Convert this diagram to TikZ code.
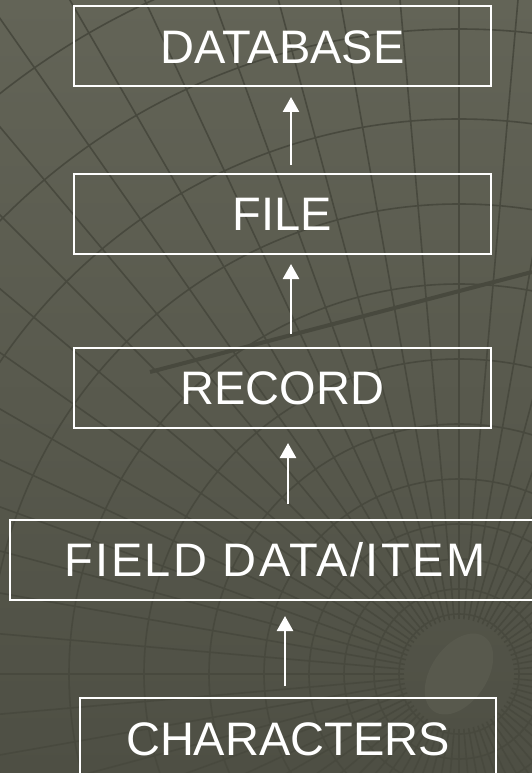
\documentclass[tikz,border=0pt]{standalone}
\usepackage{fontspec}
\setmainfont{Liberation Sans}
\usepackage{xcolor}
\usetikzlibrary{arrows.meta,positioning}

\definecolor{slatetop}{RGB}{99,100,87}
\definecolor{slatebottom}{RGB}{78,79,68}
\definecolor{gridline}{RGB}{72,73,62}
\definecolor{holefill}{RGB}{88,89,77}

\begin{document}
\begin{tikzpicture}[
    x=1pt, y=-1pt,
    level/.style={rectangle, draw=white, line width=2pt, minimum width=417pt, minimum height=80pt, inner sep=0pt, text=white, font=\fontsize{47}{50}\selectfont, text height=33.6pt, text depth=0pt},
    arrow/.style={draw=white, line width=2.6pt, -{Triangle[width=16pt,length=15pt]}},
    mesh/.style={draw=gridline, line width=1.6pt}
]

\useasboundingbox (0,0) rectangle (532,773);

% background
\shade[top color=slatetop, bottom color=slatebottom] (0,0) rectangle (532,773);
\begin{scope}
\clip (0,0) rectangle (532,773);
\foreach \a in {0,5,...,355}
    \draw[mesh] (459,674) ++(\a:55) -- ++(\a:900);
\foreach \r in {60,85,115,150,195,250,315,390,470,555,645,740,840}
    \draw[mesh] (459,674) circle[radius=\r];
\draw[mesh, line width=4pt] (150,372) -- (532,272);
\fill[holefill] (459,674) ellipse[x radius=45, y radius=28, rotate=56];
\end{scope}

% levels
\node (db) [level] at (282.5,46.5) {DATABASE};
\node (file) [level] at (282.5,214) {FILE};
\node (record) [level] at (282.5,388) {RECORD};
\node (field) [level, minimum width=530pt] at (275,559.5) {\addfontfeature{LetterSpace=5}FIELD DATA/ITEM};
\node (chars) [level, minimum width=416pt, minimum height=82pt] at (288,739) {CHARACTERS};

\draw [arrow, shorten <=8pt, shorten >=9.5pt] ([xshift=8.5pt]file.north) -- ([xshift=8.5pt]db.south);
\draw [arrow, shorten <=13pt, shorten >=9pt] ([xshift=8.5pt]record.north) -- ([xshift=8.5pt]file.south);
\draw [arrow, shorten <=14.5pt, shorten >=14pt] ([xshift=13pt]field.north) -- ([xshift=5.5pt]record.south);
\draw [arrow, shorten <=11pt, shorten >=15.5pt] ([xshift=-3pt]chars.north) -- ([xshift=10pt]field.south);

\end{tikzpicture}
\end{document}
